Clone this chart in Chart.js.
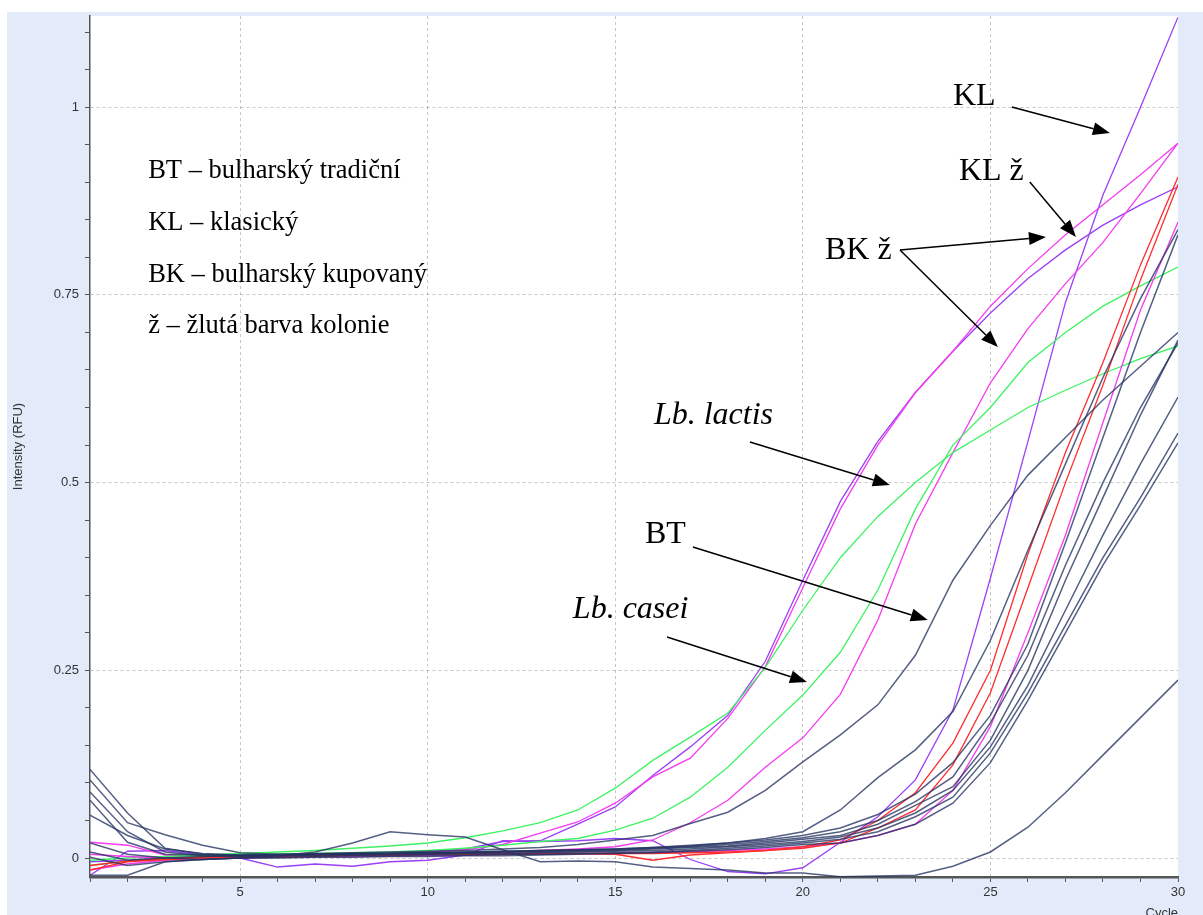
<!DOCTYPE html>
<html>
<head>
<meta charset="utf-8">
<script src="https://cdn.jsdelivr.net/npm/chart.js@4/dist/chart.umd.min.js"></script>
<style>
  html, body { margin: 0; padding: 0; background: #fff; }
  canvas { display: block; }
</style>
</head>
<body>
<canvas id="c" width="1203" height="915"></canvas>
<script>
// Amplification cycles
const cycles = [1,2,3,4,5,6,7,8,9,10,11,12,13,14,15,16,17,18,19,20,21,22,23,24,25,26,27,28,29,30];

// Fluorescence intensity (RFU) per cycle
const BT   = [0.104,0.047,0.031,0.017,0.007,0.005,0.006,0.007,0.008,0.009,0.010,0.012,0.014,0.018,0.024,0.030,0.046,0.061,0.090,0.128,0.164,0.204,0.270,0.370,0.443,0.510,0.560,0.610,0.655,0.700];
const N1   = [0.088,0.035,0.008,0.003,0.002,0.003,0.004,0.005,0.006,0.007,0.008,0.009,0.010,0.011,0.012,0.014,0.016,0.020,0.026,0.035,0.064,0.107,0.144,0.195,0.290,0.410,0.525,0.640,0.745,0.837];
const N2   = [0.118,0.060,0.013,0.005,0.003,0.004,0.005,0.006,0.006,0.007,0.008,0.009,0.010,0.011,0.012,0.014,0.017,0.020,0.024,0.030,0.040,0.058,0.085,0.127,0.190,0.285,0.420,0.560,0.700,0.830];
const N3   = [0.077,0.021,0.005,0.004,0.004,0.005,0.005,0.006,0.006,0.007,0.007,0.008,0.009,0.010,0.011,0.013,0.015,0.018,0.022,0.027,0.035,0.050,0.075,0.108,0.180,0.270,0.390,0.500,0.600,0.686];
const N4   = [0.057,0.030,0.012,0.006,0.004,0.004,0.005,0.005,0.006,0.006,0.007,0.008,0.008,0.009,0.010,0.012,0.014,0.016,0.020,0.025,0.030,0.045,0.070,0.095,0.157,0.250,0.370,0.480,0.590,0.690];
const N5   = [0.008,-0.003,0.000,0.002,0.003,0.003,0.004,0.004,0.005,0.005,0.006,0.006,0.007,0.008,0.009,0.010,0.012,0.015,0.018,0.022,0.028,0.040,0.060,0.090,0.148,0.230,0.330,0.430,0.525,0.614];
const N6   = [0.001,-0.010,-0.005,-0.002,0.000,0.001,0.002,0.003,0.003,0.004,0.004,0.005,0.005,0.006,0.007,0.008,0.010,0.013,0.016,0.020,0.025,0.035,0.055,0.081,0.140,0.220,0.310,0.400,0.480,0.566];
const N7   = [-0.023,-0.023,-0.005,-0.002,0.000,0.000,0.001,0.001,0.002,0.002,0.003,0.003,0.004,0.005,0.006,0.007,0.009,0.011,0.014,0.018,0.020,0.030,0.045,0.073,0.127,0.210,0.300,0.390,0.470,0.553];
const NLOW = [0.020,0.005,0.000,-0.002,0.000,0.003,0.008,0.020,0.035,0.031,0.028,0.011,-0.005,-0.004,-0.005,-0.012,-0.014,-0.016,-0.020,-0.020,-0.025,-0.024,-0.023,-0.011,0.008,0.041,0.087,0.137,0.187,0.237];
const KLZ  = [-0.005,-0.003,0.000,0.002,0.003,0.004,0.005,0.005,0.006,0.008,0.012,0.022,0.023,0.045,0.068,0.110,0.148,0.190,0.262,0.370,0.475,0.555,0.620,0.675,0.726,0.772,0.810,0.843,0.870,0.894];
const KL   = [-0.023,0.009,0.010,0.004,0.000,-0.012,-0.008,-0.011,-0.005,-0.003,0.004,0.023,0.022,0.023,0.026,0.023,-0.002,-0.018,-0.021,-0.013,0.021,0.055,0.104,0.197,0.373,0.555,0.740,0.883,1.000,1.120];
const BKZ1 = [-0.016,-0.008,-0.003,0.000,0.002,0.003,0.004,0.005,0.006,0.008,0.011,0.018,0.033,0.048,0.073,0.108,0.133,0.186,0.255,0.360,0.465,0.550,0.620,0.675,0.735,0.785,0.830,0.870,0.910,0.952];
const BKZ2 = [0.021,0.017,0.004,0.002,0.000,0.001,0.002,0.002,0.003,0.003,0.005,0.008,0.010,0.012,0.015,0.024,0.047,0.077,0.121,0.160,0.218,0.317,0.445,0.540,0.633,0.705,0.765,0.820,0.885,0.952];
const M3   = [0.005,0.002,0.000,0.000,0.001,0.002,0.002,0.003,0.003,0.004,0.004,0.005,0.005,0.006,0.006,0.007,0.008,0.010,0.012,0.015,0.020,0.030,0.045,0.090,0.175,0.300,0.430,0.580,0.730,0.847];
const LACTIS = [-0.003,0.000,0.002,0.004,0.006,0.008,0.010,0.013,0.016,0.020,0.027,0.036,0.047,0.064,0.093,0.130,0.161,0.193,0.254,0.330,0.400,0.455,0.500,0.540,0.570,0.600,0.623,0.645,0.665,0.682];
const CASEI  = [-0.010,-0.004,0.000,0.002,0.004,0.005,0.006,0.007,0.008,0.010,0.013,0.017,0.022,0.026,0.037,0.053,0.081,0.121,0.170,0.217,0.274,0.357,0.465,0.550,0.600,0.660,0.700,0.735,0.762,0.787];
const R1   = [-0.016,-0.005,-0.002,0.000,0.002,0.002,0.003,0.004,0.004,0.005,0.005,0.006,0.006,0.006,0.005,-0.003,0.004,0.007,0.010,0.015,0.024,0.050,0.087,0.153,0.250,0.405,0.540,0.660,0.790,0.907];
const R2   = [-0.010,-0.004,-0.001,0.001,0.002,0.003,0.003,0.004,0.004,0.005,0.005,0.005,0.006,0.006,0.006,0.006,0.007,0.008,0.010,0.013,0.020,0.040,0.064,0.124,0.220,0.360,0.500,0.630,0.770,0.897];

// Axis tick settings
const yMajorStep = 0.25;
const xMajorStep = 5;

const NAVY = 'rgba(36,50,98,0.78)';
const GREEN = '#3ef262';
const MAGENTA = '#f53cf0';
const PURPLE = '#9a40f6';
const RED = '#ff2e2e';

const series = [
  { label: 'BT', data: BT, color: NAVY },
  { label: 'N1', data: N1, color: NAVY },
  { label: 'N2', data: N2, color: NAVY },
  { label: 'N3', data: N3, color: NAVY },
  { label: 'N4', data: N4, color: NAVY },
  { label: 'N5', data: N5, color: NAVY },
  { label: 'N6', data: N6, color: NAVY },
  { label: 'N7', data: N7, color: NAVY },
  { label: 'N8', data: NLOW, color: NAVY },
  { label: 'R1', data: R1, color: RED },
  { label: 'R2', data: R2, color: RED },
  { label: 'M3', data: M3, color: MAGENTA },
  { label: 'Lb. casei', data: CASEI, color: GREEN },
  { label: 'Lb. lactis', data: LACTIS, color: GREEN },
  { label: 'BK ž 2', data: BKZ2, color: MAGENTA },
  { label: 'BK ž 1', data: BKZ1, color: MAGENTA },
  { label: 'KL ž', data: KLZ, color: PURPLE },
  { label: 'KL', data: KL, color: PURPLE }
];

// Annotation text and arrows, placed in data units (cycle, RFU)
const legendLines = ['BT – bulharský tradiční', 'KL – klasický', 'BK – bulharský kupovaný', 'ž – žlutá barva kolonie'];
const legendCycle = 2.55;
const legendBaselines = [0.9057, 0.8364, 0.7672, 0.6993];
const noteLabels = [
  { text: 'KL', c: 24.0, v: 1.003, italic: false },
  { text: 'KL ž', c: 24.16, v: 0.903, italic: false },
  { text: 'BK ž', c: 20.59, v: 0.798, italic: false },
  { text: 'Lb. lactis', c: 16.03, v: 0.578, italic: true },
  { text: 'BT', c: 15.79, v: 0.4195, italic: false },
  { text: 'Lb. casei', c: 13.87, v: 0.3197, italic: true }
];
const noteArrows = [
  { from: [25.57, 1.0003], to: [28.185, 0.9656] },
  { from: [26.05, 0.9004], to: [27.28, 0.8271] },
  { from: [22.59, 0.8098], to: [26.48, 0.8271] },
  { from: [22.59, 0.8098], to: [25.20, 0.6806] },
  { from: [18.59, 0.5541], to: [22.32, 0.4968] },
  { from: [17.07, 0.4142], to: [23.33, 0.3170] },
  { from: [16.38, 0.2943], to: [20.11, 0.2344] }
];

const isMultiple = (v, step) => Math.abs(v / step - Math.round(v / step)) < 1e-6;

const backgroundPlugin = {
  id: 'panelBackground',
  beforeDraw(chart) {
    const { ctx, width, height, chartArea } = chart;
    ctx.save();
    ctx.fillStyle = '#ffffff';
    ctx.fillRect(0, 0, width, height);
    ctx.fillStyle = '#e3ebfa';
    ctx.fillRect(7, 12, width - 7, height - 12);
    ctx.fillStyle = '#ffffff';
    ctx.fillRect(chartArea.left, chartArea.top, chartArea.right - chartArea.left, chartArea.bottom - chartArea.top);
    ctx.restore();
  }
};

function drawArrow(ctx, x1, y1, x2, y2) {
  const ang = Math.atan2(y2 - y1, x2 - x1);
  const headLen = 17, headHalf = 6.5;
  const bx = x2 - headLen * Math.cos(ang), by = y2 - headLen * Math.sin(ang);
  ctx.beginPath();
  ctx.moveTo(x1, y1);
  ctx.lineTo(bx, by);
  ctx.stroke();
  ctx.beginPath();
  ctx.moveTo(x2, y2);
  ctx.lineTo(bx + headHalf * Math.sin(ang), by - headHalf * Math.cos(ang));
  ctx.lineTo(bx - headHalf * Math.sin(ang), by + headHalf * Math.cos(ang));
  ctx.closePath();
  ctx.fill();
}

const notesPlugin = {
  id: 'notes',
  afterDatasetsDraw(chart) {
    const { ctx } = chart;
    const xs = chart.scales.x, ys = chart.scales.y;
    ctx.save();
    ctx.fillStyle = '#000';
    ctx.strokeStyle = '#000';
    ctx.lineWidth = 1.5;
    ctx.textBaseline = 'alphabetic';
    ctx.textAlign = 'left';
    ctx.font = '26.5px "Liberation Serif", "Times New Roman", serif';
    legendLines.forEach((t, i) => {
      ctx.fillText(t, xs.getPixelForValue(legendCycle), ys.getPixelForValue(legendBaselines[i]));
    });
    noteLabels.forEach(n => {
      ctx.font = (n.italic ? 'italic ' : '') + '32px "Liberation Serif", "Times New Roman", serif';
      ctx.fillText(n.text, xs.getPixelForValue(n.c), ys.getPixelForValue(n.v));
    });
    noteArrows.forEach(a => {
      drawArrow(ctx, xs.getPixelForValue(a.from[0]), ys.getPixelForValue(a.from[1]),
                xs.getPixelForValue(a.to[0]), ys.getPixelForValue(a.to[1]));
    });
    ctx.restore();
  }
};

const tickFont = { family: '"Liberation Sans", Arial, sans-serif', size: 13 };

new Chart(document.getElementById('c').getContext('2d'), {
  type: 'line',
  data: {
    datasets: series.map(s => ({
      label: s.label,
      data: s.data.map((v, i) => ({ x: cycles[i], y: v })),
      borderColor: s.color,
      borderWidth: s.color === NAVY ? 1.5 : 1.3,
      pointRadius: 0,
      tension: 0,
      fill: false
    }))
  },
  options: {
    responsive: false,
    animation: false,
    devicePixelRatio: 1,
    layout: { padding: { top: 16, right: 25, bottom: 0, left: 0 } },
    plugins: { legend: { display: false }, tooltip: { enabled: false } },
    scales: {
      x: {
        type: 'linear',
        min: 1,
        max: 30,
        afterFit(scale) { scale.height = 38; },
        ticks: {
          stepSize: 1,
          autoSkip: false,
          maxRotation: 0,
          includeBounds: false,
          padding: 3,
          color: '#333',
          font: tickFont,
          callback: v => (isMultiple(v, xMajorStep) ? String(v) : '')
        },
        grid: {
          color: c => (c.tick && isMultiple(c.tick.value, xMajorStep) && c.tick.value < 30 ? 'rgba(0,0,0,0.22)' : 'rgba(0,0,0,0)'),
          lineWidth: 1,
          tickColor: '#555',
          tickLength: 5,
          tickWidth: 1
        },
        border: { display: true, color: '#555', width: 2.5, dash: [3, 3] },
        title: {
          display: true,
          text: 'Cycle',
          align: 'end',
          color: '#333',
          font: tickFont,
          padding: { top: 0, bottom: -6 }
        }
      },
      y: {
        type: 'linear',
        min: -0.0253,
        max: 1.1215,
        afterFit(scale) { scale.width = 90; },
        ticks: {
          stepSize: 0.05,
          autoSkip: false,
          includeBounds: false,
          padding: 6,
          color: '#333',
          font: tickFont,
          callback: v => (isMultiple(v, yMajorStep) ? String(Math.round(v * 100) / 100) : '')
        },
        grid: {
          color: c => (c.tick && isMultiple(c.tick.value, yMajorStep) ? 'rgba(0,0,0,0.22)' : 'rgba(0,0,0,0)'),
          lineWidth: 1,
          tickColor: '#555',
          tickLength: 5,
          tickWidth: 1
        },
        border: { display: true, color: '#555', width: 1.5, dash: [3, 3] },
        title: {
          display: true,
          text: 'Intensity (RFU)',
          color: '#333',
          font: { family: '"Liberation Sans", Arial, sans-serif', size: 13 },
          padding: { top: 11, bottom: 0 }
        }
      }
    }
  },
  plugins: [backgroundPlugin, notesPlugin]
});
</script>
</body>
</html>
